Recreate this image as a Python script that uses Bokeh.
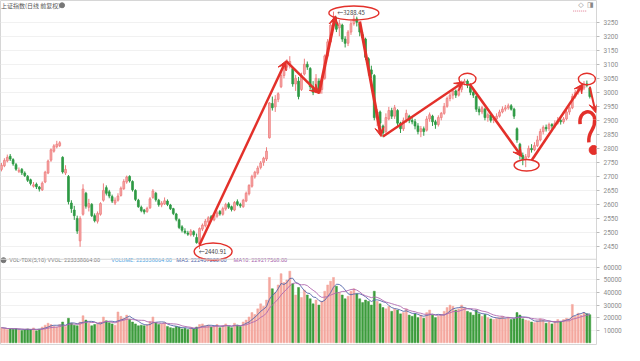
import pandas as pd
from bokeh.plotting import figure
from bokeh.models import (Range1d, FixedTicker, CustomJSTickFormatter, Arrow, VeeHead,
                          Span, ColumnDataSource)
from bokeh.core.properties import value
from bokeh.embed import file_html
from bokeh.resources import INLINE

# ---------------- data ----------------
opens = [2725, 2738, 2755, 2772, 2760, 2742, 2718, 2725, 2712, 2700,
         2688, 2665, 2672, 2662, 2652, 2680, 2712, 2758, 2790, 2806,
         2810, 2768, 2712, 2700, 2605, 2580, 2550, 2470, 2565, 2640,
         2590, 2600, 2560, 2540, 2565, 2615, 2660, 2645, 2628, 2605,
         2615, 2632, 2656, 2680, 2700, 2682, 2650, 2615, 2590, 2580,
         2575, 2588, 2625, 2640, 2615, 2598, 2602, 2612, 2598, 2585,
         2566, 2545, 2520, 2505, 2498, 2492, 2503, 2482, 2460, 2512,
         2524, 2538, 2556, 2545, 2558, 2575, 2565, 2584, 2602, 2592,
         2580, 2610, 2600, 2592, 2612, 2638, 2665, 2698, 2712, 2732,
         2750, 2762, 2838,
         2960, 2948, 2975, 3020, 3060, 3090, 3100, 3085, 3030, 3040,
         3010, 3065, 3100, 3085, 3020, 3005, 3040, 3010, 3050, 3130,
         3180, 3240, 3250, 3230, 3240, 3190, 3175, 3215, 3245, 3262,
         3245, 3205, 3190, 3120, 3080, 3060, 2905, 2930, 2880, 2860,
         2905, 2935, 2915, 2935, 2890, 2870, 2900, 2915, 2900, 2895,
         2880, 2860, 2870, 2865, 2905, 2915, 2895, 2885, 2910, 2925,
         2950, 2978, 2990, 3005, 2990, 3010, 3035, 3040, 3020, 3000,
         2985, 2940, 2930, 2940, 2910, 2920, 2900, 2905, 2915, 2930,
         2940, 2945, 2952, 2940, 2870, 2815, 2775, 2760, 2770, 2800,
         2795, 2810, 2830, 2860, 2875, 2870, 2885, 2880, 2890, 2900,
         2895, 2905, 2930, 2945, 2985, 3000, 3010, 3015, 3030, 3015]

closes = [2740, 2757, 2768, 2762, 2745, 2726, 2722, 2713, 2703, 2686,
          2675, 2670, 2663, 2655, 2676, 2715, 2755, 2795, 2809, 2815,
          2820, 2716, 2725, 2610, 2585, 2560, 2505, 2550, 2655, 2594,
          2603, 2560, 2542, 2568, 2603, 2650, 2640, 2630, 2612, 2615,
          2630, 2658, 2682, 2698, 2684, 2652, 2618, 2592, 2578, 2573,
          2586, 2620, 2648, 2617, 2599, 2605, 2613, 2600, 2585, 2568,
          2547, 2518, 2508, 2500, 2494, 2505, 2492, 2464, 2514, 2526,
          2540, 2552, 2548, 2560, 2570, 2566, 2585, 2600, 2590, 2582,
          2607, 2600, 2595, 2615, 2640, 2668, 2700, 2715, 2730, 2748,
          2765, 2790, 2962,
          2945, 2975, 2995, 3060, 3085, 3105, 3110, 3030, 3050, 2985,
          3060, 3100, 3090, 3020, 3000, 3050, 3010, 3045, 3130, 3180,
          3240, 3250, 3225, 3245, 3190, 3175, 3215, 3245, 3262, 3250,
          3215, 3195, 3125, 3085, 3065, 2910, 2930, 2890, 2855, 2910,
          2935, 2915, 2945, 2890, 2870, 2900, 2925, 2900, 2895, 2880,
          2860, 2870, 2860, 2905, 2920, 2895, 2885, 2910, 2925, 2950,
          2978, 2990, 3005, 2990, 3010, 3035, 3040, 3025, 3000, 2990,
          2940, 2930, 2945, 2910, 2920, 2900, 2905, 2915, 2930, 2940,
          2945, 2952, 2940, 2915, 2830, 2780, 2760, 2770, 2800, 2795,
          2810, 2830, 2860, 2875, 2870, 2885, 2880, 2890, 2900, 2895,
          2905, 2930, 2945, 2985, 3000, 3010, 3015, 3030, 3025, 2985]

highs = [2748, 2765, 2778, 2780, 2765, 2748, 2732, 2730, 2718, 2705,
         2692, 2680, 2678, 2666, 2682, 2720, 2760, 2800, 2815, 2827,
         2826, 2772, 2740, 2705, 2615, 2595, 2560, 2558, 2672, 2645,
         2620, 2605, 2568, 2575, 2608, 2675, 2668, 2652, 2635, 2625,
         2640, 2664, 2690, 2703, 2704, 2686, 2654, 2620, 2596, 2584,
         2592, 2626, 2655, 2645, 2620, 2612, 2625, 2618, 2602, 2588,
         2570, 2550, 2526, 2515, 2506, 2512, 2508, 2496, 2518, 2532,
         2548, 2558, 2562, 2566, 2578, 2580, 2592, 2606, 2608, 2596,
         2612, 2618, 2606, 2620, 2646, 2672, 2706, 2720, 2738, 2755,
         2770, 2804, 2965,
         2985, 2990, 3000, 3075, 3100, 3118, 3129, 3090, 3062, 3055,
         3070, 3120, 3110, 3090, 3040, 3065, 3050, 3050, 3135, 3190,
         3250, 3288, 3270, 3258, 3245, 3200, 3222, 3255, 3275, 3270,
         3250, 3215, 3195, 3125, 3095, 3065, 2940, 2935, 2885, 2925,
         2948, 2945, 2955, 2940, 2895, 2910, 2938, 2920, 2912, 2905,
         2890, 2880, 2878, 2915, 2928, 2920, 2902, 2918, 2930, 2962,
         2985, 2998, 3012, 3010, 3018, 3042, 3048, 3046, 3028, 3008,
         2990, 2950, 2952, 2945, 2928, 2925, 2915, 2925, 2938, 2950,
         2955, 2960, 2958, 2945, 2875, 2820, 2785, 2780, 2810, 2815,
         2822, 2845, 2870, 2882, 2885, 2892, 2890, 2900, 2912, 2908,
         2912, 2940, 2950, 2995, 3008, 3017, 3025, 3040, 3042, 3020]

lows = [2718, 2733, 2750, 2755, 2738, 2720, 2712, 2705, 2698, 2680,
        2668, 2660, 2655, 2646, 2648, 2676, 2708, 2752, 2785, 2800,
        2805, 2710, 2705, 2600, 2570, 2545, 2495, 2449, 2560, 2585,
        2575, 2555, 2536, 2532, 2560, 2610, 2632, 2622, 2605, 2598,
        2610, 2628, 2652, 2674, 2678, 2646, 2612, 2588, 2572, 2565,
        2570, 2584, 2620, 2610, 2592, 2590, 2598, 2594, 2580, 2562,
        2540, 2512, 2500, 2494, 2488, 2486, 2485, 2460, 2441, 2505,
        2518, 2532, 2540, 2540, 2552, 2560, 2560, 2578, 2584, 2575,
        2576, 2594, 2588, 2588, 2608, 2632, 2660, 2692, 2706, 2725,
        2738, 2755, 2835,
        2935, 2930, 2965, 3015, 3050, 3080, 3085, 3020, 3005, 2975,
        3005, 3060, 3080, 3010, 2990, 2998, 2996, 2995, 3045, 3125,
        3175, 3230, 3215, 3200, 3180, 3160, 3165, 3205, 3238, 3235,
        3200, 3180, 3115, 3060, 3050, 2900, 2880, 2875, 2840, 2855,
        2900, 2905, 2905, 2880, 2855, 2862, 2892, 2890, 2886, 2868,
        2850, 2840, 2845, 2860, 2895, 2880, 2870, 2878, 2900, 2920,
        2945, 2968, 2975, 2980, 2985, 3000, 3025, 3015, 2990, 2980,
        2930, 2918, 2922, 2900, 2895, 2892, 2890, 2898, 2910, 2925,
        2932, 2938, 2935, 2905, 2820, 2760, 2740, 2733, 2765, 2785,
        2790, 2805, 2825, 2850, 2860, 2862, 2870, 2872, 2885, 2885,
        2888, 2900, 2920, 2940, 2978, 2992, 3000, 3008, 3018, 2978]

volumes = [12000, 11500, 10500, 11000, 10800, 11200, 10500, 9800, 10200, 11000,
           10500, 11800, 9500, 10800,
           12500, 14000, 15500, 14500, 13000, 12500, 14500, 16500, 13000, 19500,
           15500, 14000, 13500, 16500,
           21500, 18000, 15500, 13500, 14500, 15000, 16500, 20500, 17500, 16000,
           15000, 14000,
           24500, 21000, 19500, 22000, 18500, 16500, 15000, 13500, 14000, 13500,
           14500, 17000, 20500, 16000, 14500, 15000, 16000, 13000, 12000, 11500,
           13000, 12500, 11000, 11500, 10500, 12000, 11000, 12500, 14500, 15000,
           13500, 14000, 12500, 13000, 14500, 12000, 13500, 15000, 13000, 12000,
           15500, 14000, 13000, 16500, 18000, 20500, 24000, 22500, 27000, 31000,
           29000, 34000, 52000, 43000, 40000, 46000, 55000, 48000, 50000, 57000,
           47000, 38000, 44000, 36000, 42000, 38000, 35000, 31000, 34000, 30000,
           33000, 41000, 46000, 49000, 52000, 45000, 40000, 38000, 35000, 37000,
           41000, 43000, 39000, 35000, 32000, 34000, 33000, 30000, 41000, 33000,
           31000, 28000, 27000, 29000, 25000, 27000, 26000, 23000, 24000, 27000,
           22000, 21000, 23000, 20000, 22000, 19500, 24000, 26000, 22000, 20000,
           21000, 22500, 25000, 28000, 30000, 29000, 26000, 27000, 30000, 28000,
           25000, 24000, 22000, 26000, 23000, 21000, 22500, 20000, 19000, 18500,
           19500, 20000, 21000, 19000, 20500, 18500, 19000, 24000, 22000, 19000,
           18000, 17500, 16500, 16000, 17500, 19000, 18000, 15500, 16500, 15000,
           17000, 18500, 17000, 18500, 19500, 19000, 30500, 21000, 23500, 22000,
           24000, 23000, 22300]

price_ticks = [2450, 2500, 2550, 2600, 2650, 2700, 2750, 2800, 2850, 2900,
               2950, 3000, 3050, 3100, 3150, 3200, 3250]
volume_ticks = [10000, 20000, 30000, 40000, 50000, 60000]

title_text = "上证指数(日线 前复权)"
low_label = "←2440.91"
high_label = "←3288.45"
vol_legend = ["VOL-TDX(5,10) VVOL: 223338064.00", "VOLUME: 223338064.00",
              "MA5: 222407200.00", "MA10: 229217568.00"]

# ---------------- derived ----------------
n = len(closes)
idx = list(range(n))
up = [c >= o for o, c in zip(opens, closes)]
UP_FILL, UP_LINE, DN = "#f6aaaa", "#ee7d7d", "#2f9a45"
VOL_UP, VOL_DN = "#f4a89f", "#3c9c3c"
src = ColumnDataSource(dict(
    x=idx, o=opens, h=highs, l=lows, c=closes,
    top=[max(o, c) for o, c in zip(opens, closes)],
    bot=[min(o, c) for o, c in zip(opens, closes)],
    fill=[UP_FILL if u else DN for u in up],
    line=[UP_LINE if u else DN for u in up],
    vol=volumes,
    vcol=[VOL_UP if u else VOL_DN for u in up],
))
vs = pd.Series(volumes, dtype=float)
ma5 = vs.rolling(5, min_periods=1).mean().tolist()
ma10 = vs.rolling(10, min_periods=1).mean().tolist()

P_START, P_END = 2096.8, 3327.6
V_START, V_END = -2214.0, 272595.0

p = figure(width=624, height=345, x_range=Range1d(-0.33, 204.3),
           y_range=Range1d(P_START, P_END), output_backend="svg",
           toolbar_location=None, y_axis_location="right",
           min_border_left=0, min_border_top=0, min_border_bottom=0,
           min_border_right=28)
p.extra_y_ranges = {"vol": Range1d(V_START, V_END)}
p.xaxis.visible = False
p.xgrid.visible = False
p.background_fill_color = "white"
p.border_fill_color = "white"
p.outline_line_color = "#d6d6d6"

vol_in_price = [P_START + (v - V_START) / (V_END - V_START) * (P_END - P_START)
                for v in volume_ticks]
ticker = FixedTicker(ticks=price_ticks + vol_in_price)
ax = p.yaxis[0]
ax.ticker = ticker
ax.formatter = CustomJSTickFormatter(
    args=dict(ps=P_START, pe=P_END, vs=V_START, ve=V_END),
    code="""
if (tick > 2420) { return tick.toFixed(0); }
const v = vs + (tick - ps) / (pe - ps) * (ve - vs);
return (Math.round(v / 1000) * 1000).toFixed(0);
""")
ax.axis_line_color = None
ax.major_tick_line_color = "#bbbbbb"
ax.major_tick_out = 3
ax.major_tick_in = 0
ax.minor_tick_line_color = None
ax.major_label_standoff = 4
ax.major_label_text_font = "Roboto"
ax.major_label_text_font_size = "6.5px"
ax.major_label_text_color = "#8c8c8c"
p.ygrid.ticker = ticker
p.ygrid.grid_line_color = "#f1f1f1"

# separator between price and volume panels
p.add_layout(Span(location=2404.5, dimension="width", line_color="#d6d6d6", line_width=1))

# candles
p.segment(x0="x", y0="l", x1="x", y1="h", line_color="line", line_width=1, source=src)
p.vbar(x="x", width=0.62, top="top", bottom="bot", fill_color="fill",
       line_color="line", line_width=0.8, source=src)

# volume
p.vbar(x="x", width=0.68, top="vol", bottom=0, fill_color="vcol", line_color="vcol",
       line_width=0.5, source=src, y_range_name="vol")
p.line(idx, ma5, line_color="#5566aa", line_width=0.9, y_range_name="vol")
p.line(idx, ma10, line_color="#b06ab0", line_width=0.9, y_range_name="vol")

# texts
CJK = value("Noto Sans CJK SC")
p.text(x=[-0.2], y=[3310.5], text=[title_text], text_font=CJK, text_font_size="6px",
       text_color="#555555", text_baseline="middle")
p.scatter(x=[20.8], y=[3310.5], size=5, color="#777777")
p.scatter(x=[0.7], y=[2401.1], size=5, color="#777777")
leg_x = [2.67, 37.7, 60.0, 79.7]
leg_col = ["#7a7a7a", "#4fa3e0", "#4b5ea6", "#a35aa8"]
p.text(x=leg_x, y=[2401.1] * 4, text=vol_legend, text_font=value("Roboto"),
       text_font_size="5.6px", text_color=leg_col, text_baseline="middle")
p.text(x=[67.7, 115.3], y=[2431.9, 3283.2], text=[low_label, high_label], text_font=CJK,
       text_font_size="6px", text_color="#444444", text_baseline="middle")
p.text(x=[199.0, 202.2], y=[3310.5, 3310.5], text=["◇", "◨"], text_font=value("DejaVu Sans"),
       text_font_size="7px", text_color="#888888", text_baseline="middle", text_align="center")
p.line([196.3, 200.9], [3290, 3290], line_color="#e07890", line_width=1, line_dash="1 1")

# hand-drawn annotations
RED = "#e3302a"
p.ellipse(x=[72.67, 121.0, 160.0, 180.3, 201.0],
          y=[2431.9, 3283.2, 3047.3, 2739.6, 3047.3],
          width=[38, 50, 17, 25, 17], height=[17, 14, 11.5, 11.5, 11.5],
          width_units="screen", height_units="screen",
          fill_color=None, line_color=RED, line_width=1.4)

arrows = [
    (68.0, 2455.8, 97.67, 3112.2, 2.4),
    (97.67, 3112.2, 109.0, 2996.0, 2.6),
    (109.0, 2996.0, 114.67, 3272.9, 3.0),
    (123.0, 3252.4, 130.33, 2842.1, 3.0),
    (131.0, 2842.1, 158.67, 3037.0, 2.4),
    (160.67, 3030.2, 178.67, 2770.3, 2.6),
    (182.0, 2756.6, 199.67, 3030.2, 2.6),
    (202.0, 3019.9, 204.0, 2927.6, 2.0),
]
for xs, ys, xe, ye, lw in arrows:
    p.add_layout(Arrow(end=VeeHead(size=9, line_color=RED, fill_color=RED, line_width=1),
                       x_start=xs, y_start=ys, x_end=xe, y_end=ye,
                       line_color=RED, line_width=lw))

# question mark
p.bezier(x0=[198.67, 203.67], y0=[2886.6, 2903.7], x1=[203.67, 201.67], y1=[2903.7, 2821.6],
         cx0=[198.0, 204.0], cy0=[2937.9, 2862.6], cx1=[203.33, 201.33], cy1=[2944.7, 2866.0],
         line_color=RED, line_width=3.5)
p.scatter(x=[203.33], y=[2794.3], size=9, color=RED)

open("out.html", "w").write(file_html(p, INLINE))
